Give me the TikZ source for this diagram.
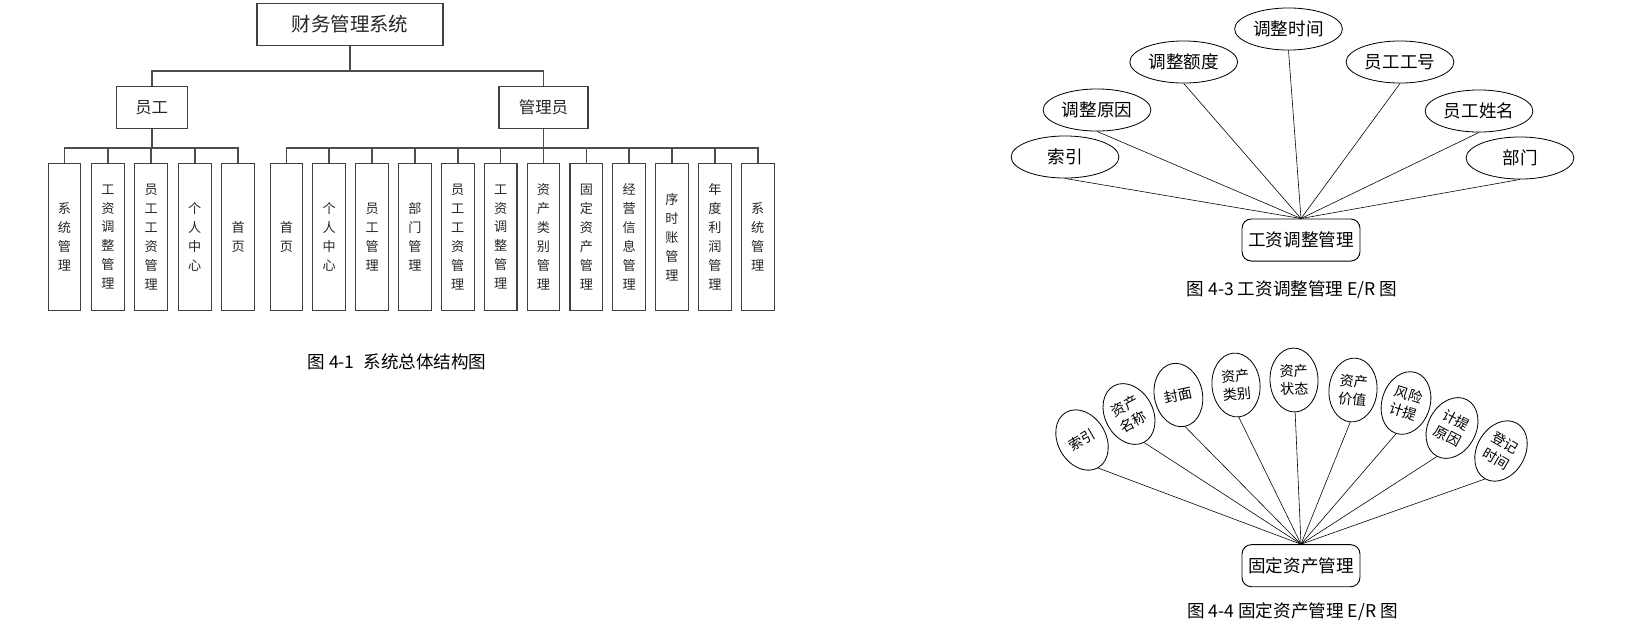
\documentclass[tikz,border=0pt]{standalone}
\usepackage{fontspec}
\setmainfont{Noto Sans CJK SC}
\usepackage{tikz}
\usetikzlibrary{shapes.geometric}

\begin{document}
\begin{tikzpicture}[x=0.3mm, y=-0.3mm,
    modbox/.style={draw=black!75, line width=0.9pt, inner sep=0pt, text=black!85},
    leafbox/.style={modbox, minimum width=27.9pt, minimum height=125.8pt, align=center, font=\fontsize{11.2}{16.2}\selectfont},
    tree/.style={draw=black!70, line width=1.4pt},
    attr/.style={ellipse, draw, line width=0.7pt, inner sep=0pt, minimum width=92pt, minimum height=35.9pt, font=\fontsize{15}{18}\selectfont},
    fanattr/.style={ellipse, draw, line width=0.7pt, inner sep=0pt, minimum width=41pt, minimum height=54.6pt, align=center, font=\fontsize{12}{15.4}\selectfont},
    entity/.style={draw, rounded corners=8pt, line width=0.8pt, minimum width=100.7pt, minimum height=35.9pt, font=\fontsize{15}{18}\selectfont},
    erline/.style={line width=0.5pt},
    caption/.style={font=\fontsize{15}{18}\selectfont}]
        \useasboundingbox (0,0) rectangle (1645,632);

        % System structure
        \node[modbox, minimum width=158.8pt, minimum height=36.2pt, font=\fontsize{16.6}{20}\selectfont] (root) at (350, 24.5) {财务管理系统};
        \node[modbox, minimum width=60.6pt, minimum height=35.5pt, font=\fontsize{14}{17}\selectfont] (emp) at (151.7, 107.5) {员工};
        \node[modbox, minimum width=76pt, minimum height=35.5pt, font=\fontsize{14}{17}\selectfont] (adm) at (543.5, 107.5) {管理员};
        \draw[tree] (root.south) -- ++(0,25) -| (emp.north);
        \draw[tree] (root.south) -- ++(0,25) -| (adm.north);

        \foreach \txt [count=\i] in {{系\\统\\管\\理}, {工\\资\\调\\整\\管\\理}, {员\\工\\工\\资\\管\\理}, {个\\人\\中\\心}, {首\\页}}
            \node[leafbox] (e\i) at ({64.5+43.4*(\i-1)}, 237) {\txt};
        \foreach \txt [count=\i] in {{首\\页}, {个\\人\\中\\心}, {员\\工\\管\\理}, {部\\门\\管\\理}, {员\\工\\工\\资\\管\\理}, {工\\资\\调\\整\\管\\理}, {资\\产\\类\\别\\管\\理}, {固\\定\\资\\产\\管\\理}, {经\\营\\信\\息\\管\\理}, {序\\时\\账\\管\\理}, {年\\度\\利\\润\\管\\理}, {系\\统\\管\\理}}
            \node[leafbox] (a\i) at ({286.4+42.85*(\i-1)}, 237) {\txt};
        \foreach \i in {1,...,5} \draw[tree] (emp.south) -- ++(0,19.4) -| (e\i.north);
        \foreach \i in {1,...,12} \draw[tree] (adm.south) -- ++(0,19.4) -| (a\i.north);

        \node[caption] (cap1) at (397, 362) {图 4-1\enspace 系统总体结构图};

        % Salary adjustment E/R
        \node[entity] (salary) at (1301, 240) {工资调整管理};
        \foreach \name/\x/\y/\txt in {sy/1065/157/索引, yy/1097/110/调整原因, ed/1183.7/62/调整额度, sj/1288.5/29/调整时间, gh/1400/62/员工工号, xm/1479/111/员工姓名, bm/1520/158/部门}
            \node[attr] (\name) at (\x, \y) {\txt};
        \foreach \name in {sy, yy, ed, sj, gh, xm, bm} \draw[erline] (\name.south) -- (salary.north);

        \node[caption] (cap3) at (1292, 290) {图 4-3 工资调整管理 E/R 图};

        % Fixed asset E/R
        \node[entity] (asset) at (1301, 565.7) {固定资产管理};
        \foreach \name/\x/\y/\r/\txt in {fa/1082/440/30/索引, fb/1129/414/28/{资产\\名称}, fc/1178.4/395/12/封面, fd/1236/385/5/{资产\\类别}, fe/1294/380/2/{资产\\状态}, ff/1353/390/-5/{资产\\价值}, fg/1406/403/-18/{风险\\计提}, fh/1452/428/-28/{计提\\原因}, fi/1501/451/-30/{登记\\时间}}
            \node[fanattr, rotate=\r] (\name) at (\x, \y) {\txt};
        \foreach \name in {fa, fb, fc, fd, fe, ff, fg, fh, fi} \draw[erline] (\name.south) -- (asset.north);

        \node[caption] (cap4) at (1292.5, 612) {图 4-4 固定资产管理 E/R 图};
\end{tikzpicture}
\end{document}
